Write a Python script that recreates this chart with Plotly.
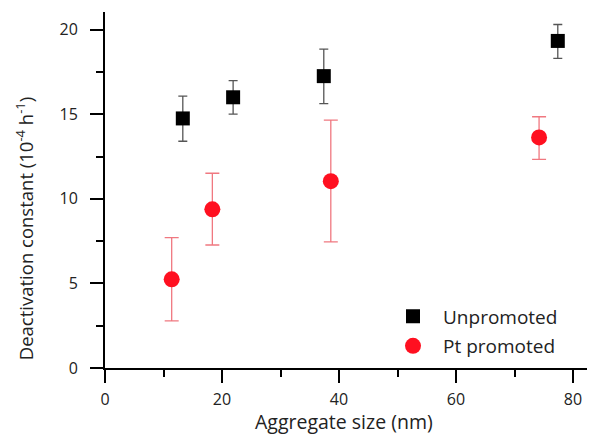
import plotly.graph_objects as go

# Data
unp_x = [13.3, 21.9, 37.4, 77.4]
unp_y = [14.75, 16.0, 17.25, 19.33]
unp_hi = [16.07, 16.98, 18.85, 20.3]
unp_lo = [13.4, 15.0, 15.62, 18.3]

pt_x = [11.4, 18.35, 38.6, 74.2]
pt_y = [5.24, 9.38, 11.04, 13.63]
pt_hi = [7.71, 11.51, 14.65, 14.85]
pt_lo = [2.78, 7.27, 7.45, 12.33]

x_ticks = [0, 20, 40, 60, 80]
y_ticks = [0, 5, 10, 15, 20]

FONT = "Open Sans"
OFF = 8  # page body margin

fig = go.Figure()
fig.add_trace(go.Scatter(
    x=unp_x, y=unp_y, mode="markers", name="Unpromoted", legendgroup="a",
    marker=dict(symbol="square", size=14, color="black"),
    error_y=dict(type="data", symmetric=False,
                 array=[h - v for h, v in zip(unp_hi, unp_y)],
                 arrayminus=[v - l for l, v in zip(unp_lo, unp_y)],
                 color="#555555", thickness=1.3, width=4.5),
))
fig.add_trace(go.Scatter(
    x=pt_x, y=pt_y, mode="markers", name="Pt promoted", legendgroup="b",
    marker=dict(symbol="circle", size=16, color="#ff1020"),
    error_y=dict(type="data", symmetric=False,
                 array=[h - v for h, v in zip(pt_hi, pt_y)],
                 arrayminus=[v - l for l, v in zip(pt_lo, pt_y)],
                 color="#f07880", thickness=1.3, width=7),
))

W, H = 595 - OFF, 434 - OFF
L, R, T = 105 - OFF, 0, 12 - OFF
B = H - (367.6 - OFF)
pw = W - L - R
ph = H - T - B

def px2x(px):
    return (px - OFF - L) / pw

def px2y(py):
    return (H - B - (py - OFF)) / ph

axis_common = dict(
    showline=True, linecolor="black", linewidth=2,
    ticks="outside", ticklen=13, tickwidth=2, tickcolor="black",
    showgrid=False, zeroline=False, automargin=False,
    tickfont=dict(family=FONT, size=16, color="#222222"),
)

fig.update_xaxes(range=[0, 83.76], tickvals=x_ticks, ticklabelstandoff=3,
                 minor=dict(dtick=10, tick0=0, ticks="outside", ticklen=7, tickwidth=2, tickcolor="black"),
                 **axis_common)
fig.update_yaxes(range=[0, 21.04], tickvals=y_ticks, ticklabelstandoff=9,
                 minor=dict(dtick=2.5, tick0=0, ticks="outside", ticklen=7, tickwidth=2, tickcolor="black"),
                 **axis_common)

fig.add_annotation(text="Aggregate size (nm)", xref="paper", yref="paper",
                   x=px2x(344), y=px2y(421), xanchor="center", yanchor="middle",
                   showarrow=False,
                   font=dict(family=FONT, size=19.5, color="#222222"))
fig.add_annotation(text="Deactivation constant (10<sup>-4</sup> h<sup>-1</sup>)",
                   xref="paper", yref="paper", textangle=-90,
                   x=px2x(24), y=px2y(229), xanchor="center", yanchor="middle",
                   showarrow=False,
                   font=dict(family=FONT, size=18.5, color="#222222"))

fig.update_layout(
    width=W, height=H,
    margin=dict(l=L, r=R, t=T, b=B),
    paper_bgcolor="white", plot_bgcolor="white",
    showlegend=True,
    legend=dict(x=px2x(383), y=px2y(297), xanchor="left", yanchor="top",
                bgcolor="rgba(0,0,0,0)", tracegroupgap=2, itemwidth=50,
                font=dict(family=FONT, size=19, color="#222222")),
)

fig.write_html("out.html")
